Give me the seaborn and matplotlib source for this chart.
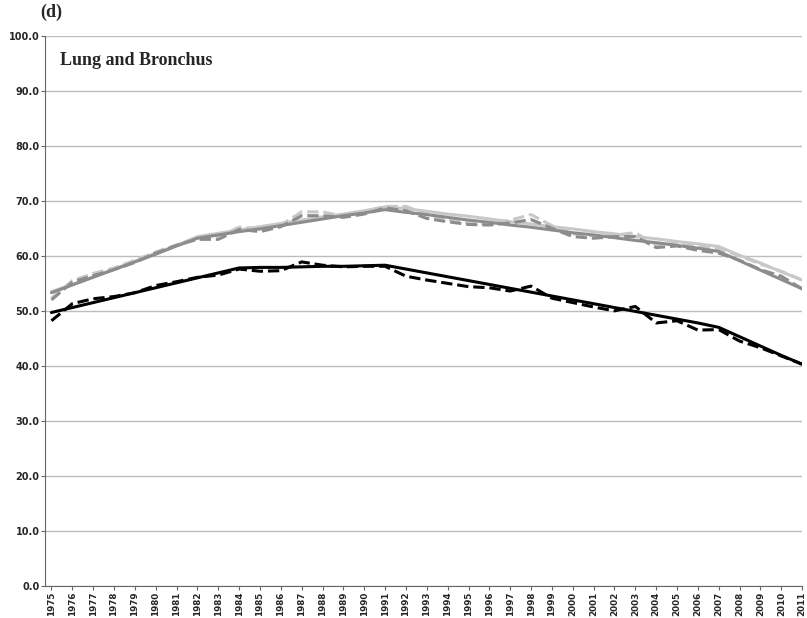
import numpy as np
import pandas as pd
import seaborn as sns
import matplotlib.pyplot as plt

years = list(range(1975, 2012))

black_fit = [49.7, 50.6, 51.5, 52.4, 53.3, 54.2, 55.1, 56.0, 56.9, 57.8, 57.9, 57.9, 58.0, 58.1, 58.1, 58.2, 58.3,
             57.6, 56.9, 56.2, 55.5, 54.8, 54.1, 53.4, 52.7, 52.0, 51.3, 50.6, 49.9, 49.2, 48.5, 47.8, 47.0,
             45.3, 43.6, 41.9, 40.3]
black_obs = [48.2, 51.3, 52.2, 52.6, 53.3, 54.6, 55.3, 56.1, 56.5, 57.6, 57.2, 57.3, 58.9, 58.3, 58.0, 58.1, 58.1,
             56.3, 55.6, 55.0, 54.4, 54.2, 53.6, 54.5, 52.3, 51.5, 50.7, 50.0, 50.8, 47.8, 48.2, 46.5, 46.6,
             44.5, 43.3, 41.8, 40.3]
dark_fit = [53.3, 54.7, 56.1, 57.5, 58.9, 60.3, 61.8, 63.2, 63.8, 64.4, 64.9, 65.5, 66.1, 66.7, 67.3, 67.8, 68.4,
            67.9, 67.5, 67.0, 66.5, 66.1, 65.6, 65.2, 64.7, 64.2, 63.8, 63.3, 62.8, 62.4, 61.9, 61.4, 60.8,
            59.1, 57.4, 55.7, 54.0]
dark_obs = [52.0, 55.2, 56.4, 57.5, 58.8, 60.5, 61.9, 63.0, 63.0, 64.8, 64.4, 65.3, 67.3, 67.3, 67.0, 67.6, 68.7,
            68.2, 66.8, 66.2, 65.7, 65.6, 66.0, 66.6, 65.0, 63.5, 63.2, 63.5, 63.5, 61.5, 61.8, 61.0, 60.5,
            59.2, 57.5, 56.3, 54.0]
light_fit = [53.5, 54.8, 56.2, 57.6, 59.0, 60.5, 61.9, 63.5, 64.1, 64.7, 65.3, 65.9, 66.5, 67.1, 67.6, 68.2, 68.9,
             68.6, 68.1, 67.6, 67.2, 66.7, 66.2, 65.8, 65.3, 64.9, 64.4, 64.0, 63.5, 63.1, 62.6, 62.2, 61.7,
             60.1, 58.7, 57.1, 55.6]
light_obs = [52.3, 55.5, 56.8, 57.8, 59.2, 60.7, 62.0, 63.3, 63.6, 65.2, 65.0, 65.6, 68.0, 68.0, 67.2, 68.0, 69.0,
             69.0, 67.5, 66.6, 66.0, 65.8, 66.5, 67.5, 65.5, 64.0, 63.6, 63.8, 64.2, 62.0, 62.3, 61.8, 61.3,
             60.0, 58.5, 57.2, 55.6]

sns.set_style("white")
fig, ax = plt.subplots(figsize=(8.07, 6.18), dpi=100)
fig.subplots_adjust(left=0.056, right=0.994, top=0.942, bottom=0.052)

x = np.arange(len(years))
series = [
    (light_fit, "#c8c8c8", "-"), (light_obs, "#c8c8c8", "--"),
    (dark_fit, "#8c8c8c", "-"), (dark_obs, "#8c8c8c", "--"),
    (black_fit, "#000000", "-"), (black_obs, "#000000", "--"),
]
for vals, c, ls in series:
    sns.lineplot(x=x, y=vals, color=c, linestyle=ls, linewidth=2.2, ax=ax)

ax.set_ylim(0, 100)
ax.set_xlim(-0.3, len(years) - 1)
ax.set_yticks(np.arange(0, 101, 10))
ax.set_yticklabels([f"{v:.1f}" for v in range(0, 101, 10)], fontsize=7, fontweight="bold")
ax.set_xticks(x)
ax.set_xticklabels([str(y) for y in years], rotation=90, fontsize=6.3, fontweight="bold")
ax.yaxis.grid(True, color="#bdbdbd", linewidth=1)
for s in ["top", "right"]:
    ax.spines[s].set_visible(False)
ax.spines["left"].set_color("#666666")
ax.spines["bottom"].set_color("#666666")
ax.tick_params(axis="both", length=3, color="#666666", direction="out", left=True, bottom=True, pad=1)

ax.text(0.02, 0.955, "Lung and Bronchus", transform=ax.transAxes, fontsize=13, va="center",
        fontweight="bold", family="Liberation Serif")
fig.text(0.05, 0.972, "(d)", fontsize=13, fontweight="bold", family="Liberation Serif")

fig.savefig("out.png")
